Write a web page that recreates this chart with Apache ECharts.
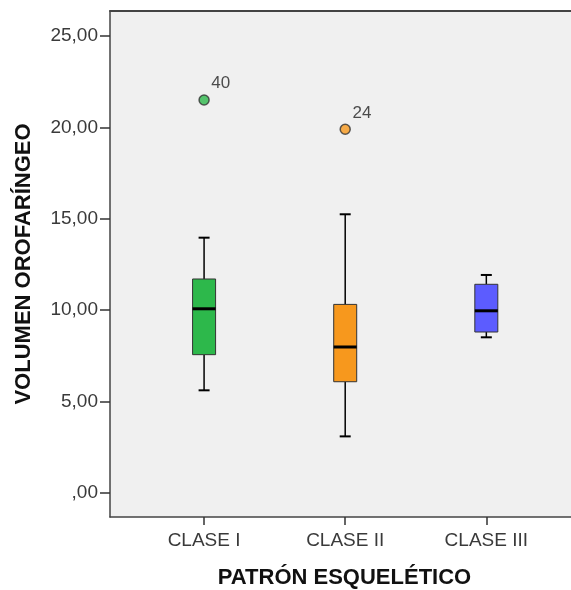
<!DOCTYPE html>
<html>
<head>
<meta charset="utf-8">
<script src="https://cdn.jsdelivr.net/npm/echarts@6/dist/echarts.min.js"></script>
<style>
	html, body { margin: 0; padding: 0; background: #fff; }
	#boxChart { width: 571px; height: 590px; }
</style>
</head>
<body>
<div id="boxChart"></div>
<script>
// categories and values
const categories = ['CLASE I', 'CLASE II', 'CLASE III'];
// [min, Q1, median, Q3, max]
const clase1 = [5.62, 7.57, 10.08, 11.71, 13.97];
const clase2 = [3.10, 6.09, 7.99, 10.32, 15.25];
const clase3 = [8.52, 8.81, 9.97, 11.42, 11.93];
const outlierValues = [[1, 21.5], [2, 19.9]];
const outlierCases = ['40', '24'];
const yTicks = [0, 5, 10, 15, 20, 25];

const boxColors = ['#2db84b', '#f7981d', '#5c5cff'];

const boxes = [clase1, clase2, clase3].map((b, i) => [i + 1].concat(b));

var chartDom = document.getElementById('boxChart');
var myChart = echarts.init(chartDom, null, { devicePixelRatio: 1 });

const fmt = (v) => (v === 0 ? ',00' : v.toFixed(2).replace('.', ','));

const renderBox = (params, api) => {
	const x = api.value(0);
	const pMin = api.coord([x, api.value(1)]);
	const pQ1 = api.coord([x, api.value(2)]);
	const pMed = api.coord([x, api.value(3)]);
	const pQ3 = api.coord([x, api.value(4)]);
	const pMax = api.coord([x, api.value(5)]);
	const cx = pMed[0];
	const bw = 23;
	const cw = 11;
	const line = (x1, y1, x2, y2, w) => ({
		type: 'line',
		shape: { x1: x1, y1: y1, x2: x2, y2: y2 },
		style: { stroke: '#000', lineWidth: w }
	});
	return {
		type: 'group',
		children: [
			line(cx, pMax[1], cx, pQ3[1], 1.5),
			line(cx, pQ1[1], cx, pMin[1], 1.5),
			line(cx - cw / 2, pMax[1], cx + cw / 2, pMax[1], 2),
			line(cx - cw / 2, pMin[1], cx + cw / 2, pMin[1], 2),
			{
				type: 'rect',
				shape: { x: cx - bw / 2, y: pQ3[1], width: bw, height: pQ1[1] - pQ3[1] },
				style: { fill: boxColors[params.dataIndex], stroke: '#333', lineWidth: 1 }
			},
			line(cx - bw / 2, pMed[1], cx + bw / 2, pMed[1], 3)
		]
	};
};

const frameLine = { show: true, onZero: false, lineStyle: { color: '#444', width: 1.5 } };

var option = {
	animation: false,
	backgroundColor: '#fff',
	grid: {
		left: 110,
		right: 0,
		top: 11,
		bottom: 73,
		outerBoundsMode: 'none',
		containLabel: false,
		show: true,
		backgroundColor: '#f0f0f0',
		borderWidth: 0
	},
	xAxis: [
		{
			type: 'value',
			min: 1 / 3,
			max: 3.6,
			splitLine: { show: false },
			axisLine: frameLine,
			axisTick: { show: true, customValues: [1, 2, 3], length: 8, lineStyle: { color: '#333', width: 1.5 } },
			axisLabel: {
				customValues: [1, 2, 3],
				formatter: (v) => categories[Math.round(v) - 1],
				color: '#3a3a3a',
				fontFamily: 'Liberation Sans',
				fontSize: 19,
				margin: 14
			},
			name: 'PATRÓN ESQUELÉTICO',
			nameLocation: 'middle',
			nameGap: 50,
			nameTextStyle: { color: '#111', fontFamily: 'Liberation Sans', fontWeight: 'bold', fontSize: 22, padding: [0, 0, 0, 8] }
		},
		{
			type: 'value',
			position: 'top',
			min: 1 / 3,
			max: 3.6,
			splitLine: { show: false },
			axisLine: { show: true, onZero: false, lineStyle: { color: '#444', width: 2 } },
			axisTick: { show: false },
			axisLabel: { show: false }
		}
	],
	yAxis: {
		type: 'value',
		min: -1.31,
		max: 26.37,
		splitLine: { show: false },
		axisLine: frameLine,
		axisTick: { show: true, customValues: yTicks, length: 10, lineStyle: { color: '#333', width: 1.5 } },
		axisLabel: {
			customValues: yTicks,
			formatter: fmt,
			color: '#3a3a3a',
			fontFamily: 'Liberation Sans',
			fontSize: 19,
			margin: 12
		},
		name: 'VOLUMEN OROFARÍNGEO',
		nameLocation: 'middle',
		nameGap: 75,
		nameTextStyle: { color: '#111', fontFamily: 'Liberation Sans', fontWeight: 'bold', fontSize: 22 }
	},
	series: [
		{
			type: 'custom',
			renderItem: renderBox,
			data: boxes,
			encode: { x: 0, y: [1, 2, 3, 4, 5] }
		},
		{
			type: 'scatter',
			symbolSize: 10,
			data: outlierValues.map((d, i) => ({
				value: d,
				itemStyle: { color: boxColors[i], borderColor: '#333', borderWidth: 1.5 }
			})),
			label: {
				show: true,
				position: [13, -19],
				formatter: (p) => outlierCases[p.dataIndex],
				color: '#222',
				fontFamily: 'Liberation Sans',
				fontSize: 17
			}
		}
	]
};

option && myChart.setOption(option);
</script>
</body>
</html>
